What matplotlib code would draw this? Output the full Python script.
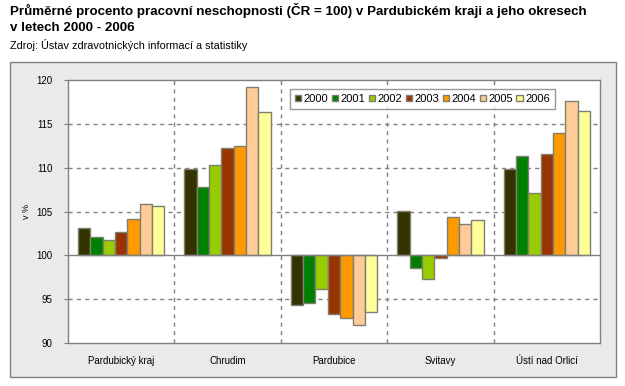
import numpy as np
import matplotlib.pyplot as plt
from matplotlib.patches import Rectangle

# --- data ---
okresy = ["Pardubický kraj", "Chrudim", "Pardubice", "Svitavy", "Ústí nad Orlicí"]
roky = ["2000", "2001", "2002", "2003", "2004", "2005", "2006"]

r2000 = [103.1, 109.8, 94.3, 105.1, 109.8]
r2001 = [102.1, 107.8, 94.6, 98.6, 111.3]
r2002 = [101.7, 110.3, 96.2, 97.3, 107.1]
r2003 = [102.7, 112.3, 93.3, 99.7, 111.6]
r2004 = [104.1, 112.5, 92.8, 104.4, 113.9]
r2005 = [105.9, 119.2, 92.1, 103.6, 117.6]
r2006 = [105.6, 116.4, 93.5, 104.0, 116.5]

barvy = ["#333300", "#008000", "#99CC00", "#993300", "#FF9900", "#FFCC99", "#FFFF99"]

plt.rcParams['font.family'] = ['Liberation Sans', 'DejaVu Sans']

W, H = 625, 386
fig = plt.figure(figsize=(W / 100, H / 100), dpi=100)
fig.patch.set_facecolor("white")

# --- gray panel behind the chart ---
panel = Rectangle((10 / W, 1 - 377 / H), 606 / W, 315 / H, transform=fig.transFigure,
                  facecolor="#EAEAEA", edgecolor="#808080", linewidth=1.0, zorder=-5)
fig.patches.append(panel)

ax = fig.add_axes([68 / W, 1 - 343 / H, 532 / W, 263 / H])
ax.set_zorder(2)
ax.set_facecolor("white")

# --- bars ---
serie = [r2000, r2001, r2002, r2003, r2004, r2005, r2006]
x = np.arange(len(okresy))
sirka = 0.116
for i, (vals, rok) in enumerate(zip(serie, roky)):
    vals = np.array(vals)
    ax.bar(x + (i - 3) * sirka, vals - 100, bottom=100, width=sirka,
           color=barvy[i], edgecolor="#7F7F6F", linewidth=1.0, label=rok, zorder=3)

ax.set_xlim(-0.5, len(okresy) - 0.5)
ax.set_ylim(90, 120)
ax.set_yticks([90, 95, 100, 105, 110, 115, 120])

# --- grid ---
for yv in [95, 105, 110, 115]:
    ax.axhline(yv, color="#808080", linestyle=(0, (3, 3)), linewidth=1.0, zorder=1)
ax.axhline(100, color="#808080", linewidth=1.0, zorder=4)
for xv in np.arange(0.5, len(okresy) - 0.5, 1):
    ax.axvline(xv, color="#808080", linestyle=(0, (3, 3)), linewidth=1.0, zorder=1)

for s in ax.spines.values():
    s.set_color("#808080")
    s.set_linewidth(1.0)

ax.set_xticks(x)
ax.set_xticklabels(okresy)
ax.tick_params(axis="x", length=0, pad=9, labelsize=7)
ax.tick_params(axis="y", length=3, color="#808080", pad=8, labelsize=7)
ax.set_ylabel("v %", fontsize=6.5, labelpad=4)

leg = ax.legend(loc="upper left", bbox_to_anchor=(222 / 532, 1 - 9 / 263), ncol=7,
                fontsize=8, frameon=True, fancybox=False, handlelength=0.55,
                handleheight=0.55, handletextpad=0.25, columnspacing=0.3,
                borderpad=0.45, borderaxespad=0)
leg.get_frame().set_edgecolor("#808080")
leg.get_frame().set_linewidth(1.0)

# --- titles ---
fig.text(10 / W, 1 - 3 / H, "Průměrné procento pracovní neschopnosti (ČR = 100) v Pardubickém kraji a jeho okresech\nv letech 2000 - 2006",
         fontsize=9.6, fontweight="bold", va="top", ha="left", linespacing=1.45)
fig.text(10 / W, 1 - 45 / H, "Zdroj: Ústav zdravotnických informací a statistiky",
         fontsize=7.8, va="center", ha="left")

fig.savefig("out.png", dpi=100)
